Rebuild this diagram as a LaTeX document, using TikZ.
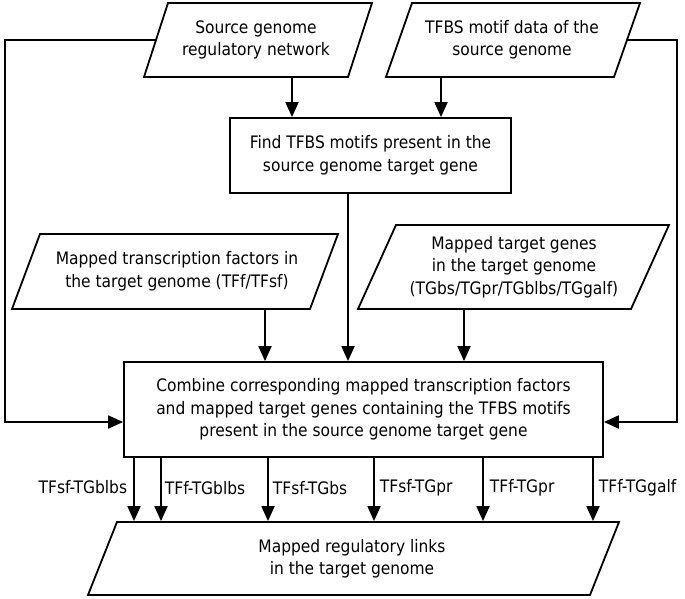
\documentclass[tikz,border=0pt]{standalone}
\usepackage{fontspec}
\setmainfont{DejaVu Sans Condensed}
\usetikzlibrary{arrows.meta}
\begin{document}
\begin{tikzpicture}[x=1pt,y=-1pt,
  line width=1.8pt,
  font=\fontsize{17.2}{22.5}\selectfont,
  >={Triangle[length=15pt,width=13pt]},
  txt/.style={align=center,inner sep=0pt},
  lbl/.style={inner sep=0pt,anchor=west},
  conn/.style={->}]
\useasboundingbox (0,0) rectangle (685,599);
% parallelograms
\draw (168,3) -- (372,3) -- (348,77) -- (144,77) -- cycle;
\draw (412,3) -- (640,3) -- (614,77) -- (386,77) -- cycle;
\draw (40,234) -- (338,234) -- (310,309) -- (12,309) -- cycle;
\draw (396,225) -- (669,225) -- (631,309) -- (358,309) -- cycle;
\draw (117,522) -- (619,522) -- (590,595) -- (88,595) -- cycle;
% text / anchor nodes of the parallelograms
\node[txt,minimum height=74pt] (p1) at (256,40) {Source genome\\regulatory network};
\node[txt,minimum height=74pt] (p2) at (512,40) {TFBS motif data of the\\source genome};
\node[txt,minimum height=75pt] (p3) at (177,271.5) {Mapped transcription factors in\\the target genome (TFf/TFsf)};
\node[txt,minimum height=84pt] (p4) at (514,267) {Mapped target genes\\in the target genome\\(TGbs/TGpr/TGblbs/TGgalf)};
\node[txt,minimum height=73pt] (p5) at (352,558.5) {Mapped regulatory links\\in the target genome};
% boxes
\node[draw,txt,minimum width=281pt,minimum height=75pt] (find) at (370.5,155.5) {Find TFBS motifs present in the\\source genome target gene};
\node[draw,txt,minimum width=479pt,minimum height=95pt] (comb) at (363.5,409.5) {Combine corresponding mapped transcription factors\\and mapped target genes containing the TFBS motifs\\present in the source genome target gene};
% side coordinates
\coordinate (l1) at (156,40);
\coordinate (r1) at (627,40);
% connectors
\draw[conn] (p1.south -| 292,0) -- (find.north -| 292,0);
\draw[conn] (p2.south -| 441,0) -- (find.north -| 441,0);
\draw[conn] (find.south -| 348,0) -- (comb.north -| 348,0);
\draw[conn] (p3.south -| 265,0) -- (comb.north -| 265,0);
\draw[conn] (p4.south -| 464,0) -- (comb.north -| 464,0);
\draw[conn] (l1) -- (5,40) -- (5,422) -- (comb.west |- 0,422);
\draw[conn] (r1) -- (677,40) -- (677,422) -- (comb.east |- 0,422);
\foreach \x in {134,161,268,374,483,593}
  \draw[conn] (comb.south -| \x,0) -- (p5.north -| \x,0);
% labels
\node[inner sep=0pt,anchor=east] (t1) at (128,487) {TFsf-TGblbs};
\node[lbl] (t2) at (164,488) {TFf-TGblbs};
\node[lbl] (t3) at (272,488) {TFsf-TGbs};
\node[lbl] (t4) at (379,488) {TFsf-TGpr};
\node[lbl] (t5) at (489,488) {TFf-TGpr};
\node[lbl] (t6) at (598,488) {TFf-TGgalf};
\end{tikzpicture}
\end{document}
